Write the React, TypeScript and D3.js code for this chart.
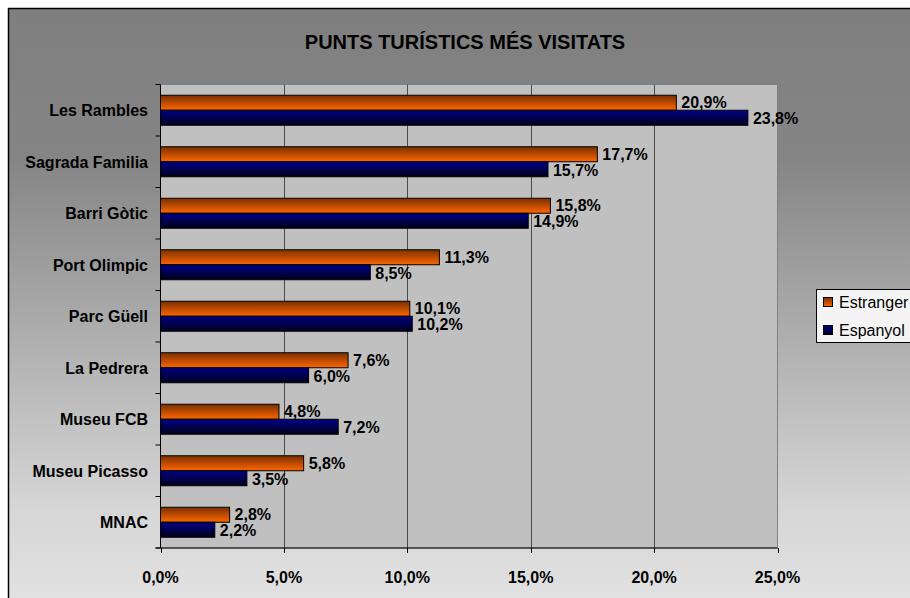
import * as d3 from 'd3';

const categories = [
  'Les Rambles',
  'Sagrada Familia',
  'Barri Gòtic',
  'Port Olimpic',
  'Parc Güell',
  'La Pedrera',
  'Museu FCB',
  'Museu Picasso',
  'MNAC',
];
const estranger = [20.9, 17.7, 15.8, 11.3, 10.1, 7.6, 4.8, 5.8, 2.8];
const espanyol = [23.8, 15.7, 14.9, 8.5, 10.2, 6.0, 7.2, 3.5, 2.2];
const xTicks = [0, 5, 10, 15, 20, 25];
const seriesNames = ['Estranger', 'Espanyol'];

const W = 910;
const H = 598;
const plot = {left: 160.5, right: 777.5, top: 84.5, bottom: 548};
const font = '"Liberation Sans", Arial, sans-serif';

const fmt = (v: number) => d3.format('.1f')(v).replace('.', ',') + '%';

export default function App() {
  const x = d3.scaleLinear().domain([0, 25]).range([plot.left, plot.right]);
  const y = d3.scaleBand().domain(categories).range([plot.top, plot.bottom]);
  const barH = 15;
  const boundaries = d3.range(categories.length + 1).map((i) => plot.top + i * y.step());

  return (
    <div style={{position: 'fixed', left: 0, top: 0}}>
      <svg width={W} height={H} style={{display: 'block'}}>
        <defs>
          <linearGradient id="bg" x1="0" y1="0" x2="0" y2="1">
            <stop offset="0" stopColor="#7f7f7f" />
            <stop offset="0.15" stopColor="#858585" />
            <stop offset="0.5" stopColor="#d6d6d6" />
            <stop offset="0.82" stopColor="#fdfdfd" />
            <stop offset="1" stopColor="#ffffff" />
          </linearGradient>
          <linearGradient id="gOrange" x1="0" y1="0" x2="0" y2="1">
            <stop offset="0" stopColor="#7a3000" />
            <stop offset="1" stopColor="#ff6600" />
          </linearGradient>
          <linearGradient id="gBlue" x1="0" y1="0" x2="0" y2="1">
            <stop offset="0" stopColor="#000088" />
            <stop offset="1" stopColor="#000018" />
          </linearGradient>
        </defs>

        <rect x={0} y={0} width={W} height={H} fill="#ffffff" />
        <rect x={8.5} y={8.5} width={1000} height={1000} fill="url(#bg)" stroke="#000" strokeWidth={1.5} />

        <text
          x={465}
          y={49}
          textAnchor="middle"
          fontFamily={font}
          fontWeight="bold"
          fontSize={20}
          fill="#000"
        >
          PUNTS TURÍSTICS MÉS VISITATS
        </text>

        {/* plot area */}
        <rect
          x={plot.left}
          y={plot.top}
          width={plot.right - plot.left}
          height={plot.bottom - plot.top}
          fill="#c0c0c0"
          stroke="#808080"
        />
        {xTicks.slice(1, -1).map((t) => (
          <line
            key={t}
            x1={Math.round(x(t)) + 0.5}
            x2={Math.round(x(t)) + 0.5}
            y1={plot.top}
            y2={plot.bottom}
            stroke="#4a4a4a"
          />
        ))}

        {/* bars */}
        {categories.map((c, i) => {
          const cy = y(c)! + y.bandwidth() / 2;
          return (
            <g key={c}>
              <rect
                x={x(0)}
                y={cy - barH}
                width={x(estranger[i]) - x(0)}
                height={barH}
                fill="url(#gOrange)"
                stroke="#000"
              />
              <rect
                x={x(0)}
                y={cy}
                width={x(espanyol[i]) - x(0)}
                height={barH}
                fill="url(#gBlue)"
                stroke="#000"
              />
              <text
                x={x(estranger[i]) + 5}
                y={cy - barH / 2 - 0.5}
                dy="0.36em"
                fontFamily={font}
                fontWeight="bold"
                fontSize={16}
              >
                {fmt(estranger[i])}
              </text>
              <text
                x={x(espanyol[i]) + 5}
                y={cy + barH / 2 + 0.5}
                dy="0.36em"
                fontFamily={font}
                fontWeight="bold"
                fontSize={16}
              >
                {fmt(espanyol[i])}
              </text>
              <text
                x={148}
                y={cy}
                dy="0.36em"
                textAnchor="end"
                fontFamily={font}
                fontWeight="bold"
                fontSize={16}
              >
                {c}
              </text>
            </g>
          );
        })}

        {/* axes */}
        <line x1={plot.left} x2={plot.left} y1={plot.top} y2={plot.bottom} stroke="#000" />
        {boundaries.map((b, i) => (
          <line key={i} x1={plot.left - 5} x2={plot.left} y1={b} y2={b} stroke="#000" />
        ))}
        <line x1={plot.left - 5} x2={plot.right} y1={plot.bottom} y2={plot.bottom} stroke="#000" />
        {xTicks.map((t) => (
          <g key={t}>
            <line
              x1={Math.round(x(t)) + 0.5}
              x2={Math.round(x(t)) + 0.5}
              y1={plot.bottom}
              y2={plot.bottom + 5}
              stroke="#000"
            />
            <text
              x={x(t)}
              y={583}
              textAnchor="middle"
              fontFamily={font}
              fontWeight="bold"
              fontSize={16}
            >
              {fmt(t)}
            </text>
          </g>
        ))}

        {/* legend */}
        <rect x={816.5} y={289.5} width={120} height={53} fill="#f4f4f4" stroke="#000" />
        {seriesNames.map((s, i) => (
          <g key={s}>
            <rect
              x={823.5}
              y={297.5 + i * 28}
              width={9}
              height={9}
              fill={i === 0 ? 'url(#gOrange)' : 'url(#gBlue)'}
              stroke="#000"
            />
            <text x={839} y={302 + i * 28} dy="0.36em" fontFamily={font} fontSize={16}>
              {s}
            </text>
          </g>
        ))}
      </svg>
    </div>
  );
}
